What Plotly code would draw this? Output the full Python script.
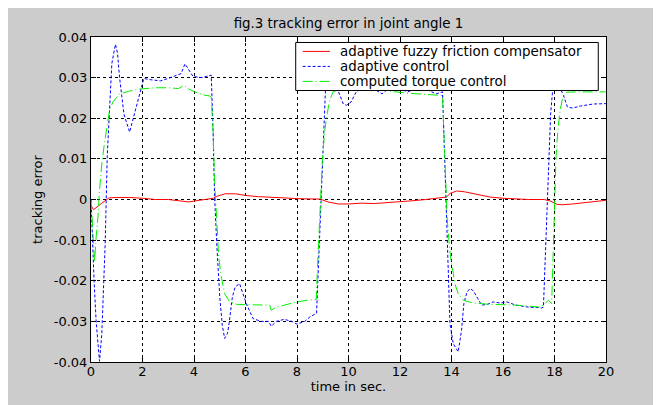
import plotly.graph_objects as go

# ---------------- data ----------------
series_names = ["adaptive fuzzy friction compensator", "adaptive control", "computed torque control"]

t_fuzzy = [0.0, 0.1, 0.4, 0.7, 1.0, 1.5, 2.0, 2.5, 3.0, 3.5, 3.8, 4.2, 4.6, 4.75, 4.9, 5.2, 5.6,
           6.0, 6.5, 7.0, 7.5, 8.0, 8.5, 8.9, 9.2, 9.6, 10.0, 10.5, 11.0, 11.5, 12.0, 12.5, 13.0,
           13.5, 13.8, 13.95, 14.2, 14.5, 15.0, 15.5, 16.0, 16.5, 17.0, 17.6, 17.85, 18.1, 18.3,
           18.7, 19.2, 19.6, 20.0]
e_fuzzy = [-0.0015, -0.0025, -0.001, 0.0004, 0.0005, 0.0005, 0.0003, 0.0, 0.0, -0.0003, -0.0006,
           -0.0002, 0.0001, 0.0003, 0.0008, 0.0014, 0.0014, 0.001, 0.0007, 0.0006, 0.0004, 0.0002,
           0.0002, 0.0001, -0.0006, -0.0011, -0.0011, -0.0009, -0.001, -0.0008, -0.0005, -0.0003,
           0.0, 0.0003, 0.0006, 0.0015, 0.0021, 0.0019, 0.0012, 0.0006, 0.0003, 0.0001, 0.0, 0.0,
           -0.0004, -0.0012, -0.0013, -0.0011, -0.0007, -0.0004, -0.0002]

t_adaptive = [0.0, 0.05, 0.12, 0.2, 0.33, 0.42, 0.5, 0.55, 0.63, 0.72, 0.81, 0.95, 1.03, 1.11, 1.28,
              1.5, 1.69, 1.89, 2.05, 2.3, 2.7, 3.0, 3.3, 3.5, 3.65, 3.8, 3.96, 4.3, 4.6, 4.67, 4.74,
              4.8, 4.89, 5.0, 5.1, 5.19, 5.3, 5.36, 5.49, 5.6, 5.77, 5.9, 6.03, 6.29, 6.6, 6.9, 7.0,
              7.2, 7.5, 7.8, 8.0, 8.3, 8.5, 8.76, 8.82, 8.88, 8.95, 9.01, 9.08, 9.12, 9.3, 9.55,
              9.8, 9.92, 10.1, 10.3, 10.6, 11.0, 11.3, 11.6, 12.0, 12.3, 12.7, 13.0, 13.4, 13.65,
              13.7, 13.77, 13.81, 13.87, 13.94, 14.07, 14.26, 14.39, 14.48, 14.6, 14.72, 14.85,
              14.98, 15.17, 15.4, 15.62, 15.9, 16.14, 16.5, 17.0, 17.37, 17.5, 17.57, 17.63, 17.7,
              17.76, 17.85, 17.96, 18.1, 18.25, 18.35, 18.5, 18.7, 19.0, 19.5, 20.0]
e_adaptive = [0.0, -0.009, -0.02, -0.03, -0.0398, -0.033, -0.02, -0.011, 0.0105, 0.021, 0.0335,
              0.0382, 0.036, 0.03, 0.021, 0.0166, 0.021, 0.026, 0.0298, 0.0295, 0.0292, 0.0298,
              0.0305, 0.031, 0.0334, 0.032, 0.0303, 0.03, 0.0306, 0.0306, 0.017, 0.0006, -0.0117,
              -0.024, -0.031, -0.0342, -0.033, -0.0306, -0.024, -0.0215, -0.0207, -0.023, -0.0256,
              -0.0293, -0.03, -0.03, -0.0312, -0.03, -0.0295, -0.03, -0.0307, -0.03, -0.0289,
              -0.028, -0.019, -0.0092, 0.0006, 0.0129, 0.0236, 0.0293, 0.03, 0.0275, 0.0235,
              0.0232, 0.024, 0.0265, 0.0275, 0.0272, 0.026, 0.0275, 0.0272, 0.0265, 0.0274,
              0.0272, 0.026, 0.0265, 0.017, 0.003, -0.0092, -0.0207, -0.0306, -0.0355, -0.0375,
              -0.0322, -0.0256, -0.0228, -0.0219, -0.0225, -0.024, -0.026, -0.0258, -0.0252,
              -0.0255, -0.0252, -0.026, -0.0265, -0.0266, -0.0267, -0.0265, -0.0158, -0.0035,
              0.0088, 0.0211, 0.0293, 0.031, 0.027, 0.0256, 0.0228, 0.0225, 0.023, 0.0235, 0.0236]

t_torque = [0.0, 0.07, 0.14, 0.2, 0.27, 0.33, 0.42, 0.52, 0.63, 0.72, 0.85, 1.11, 1.5, 1.89, 2.5,
            3.0, 3.4, 3.61, 3.8, 4.02, 4.39, 4.6, 4.67, 4.74, 4.8, 4.87, 4.96, 5.06, 5.19, 5.39,
            5.65, 6.0, 6.5, 6.94, 7.0, 7.1, 7.33, 7.7, 8.0, 8.4, 8.75, 8.78, 8.86, 8.92, 8.99,
            9.08, 9.17, 9.27, 9.4, 9.7, 10.5, 11.5, 12.2, 13.0, 13.6, 13.65, 13.7, 13.77, 13.83,
            13.91, 13.98, 14.07, 14.13, 14.26, 14.46, 14.85, 15.49, 16.5, 17.44, 17.57, 17.76,
            17.89, 17.93, 17.98, 18.02, 18.06, 18.13, 18.22, 18.32, 18.48, 19.0, 20.0]
e_torque = [0.0, -0.0076, -0.0154, -0.0092, -0.0043, 0.0023, 0.0088, 0.0138, 0.0187, 0.022, 0.024,
            0.026, 0.0267, 0.0272, 0.0275, 0.0275, 0.0273, 0.0281, 0.0272, 0.0265, 0.0257, 0.0255,
            0.0252, 0.017, 0.0047, -0.0043, -0.0142, -0.019, -0.0232, -0.0252, -0.0258, -0.0259,
            -0.026, -0.026, -0.0273, -0.0268, -0.0263, -0.0257, -0.0252, -0.0248, -0.0246, -0.019,
            -0.0092, 0.0006, 0.0105, 0.017, 0.0211, 0.0244, 0.0265, 0.0272, 0.0272, 0.0268,
            0.0262, 0.0258, 0.0255, 0.0256, 0.017, 0.0064, -0.0043, -0.0109, -0.015, -0.0182,
            -0.0207, -0.0232, -0.0248, -0.0255, -0.0258, -0.026, -0.0265, -0.026, -0.0248,
            -0.0256, -0.0158, -0.0051, 0.0031, 0.0105, 0.017, 0.022, 0.0252, 0.0264, 0.0265, 0.0265]

x_ticks = [0, 2, 4, 6, 8, 10, 12, 14, 16, 18, 20]
y_ticks = [-0.04, -0.03, -0.02, -0.01, 0.0, 0.01, 0.02, 0.03, 0.04]
y_ticktext = ["-0.04", "-0.03", "-0.02", "-0.01", "0", "0.01", "0.02", "0.03", "0.04"]

# ---------------- styling ----------------
FONT = "DejaVu Sans"
colors = ["#ff0000", "#0000ff", "#00f000"]
dashes = ["solid", "3px,2px", "10px,3px,1px,3px"]

fig = go.Figure()
for name, t, e, c, d in zip(series_names, [t_fuzzy, t_adaptive, t_torque],
                            [e_fuzzy, e_adaptive, e_torque], colors, dashes):
    fig.add_trace(go.Scatter(x=t, y=e, mode="lines", name=name, showlegend=False,
                             line=dict(color=c, width=1, dash=d)))

axis_common = dict(showline=True, linecolor="black", linewidth=1, mirror="ticks",
                   ticks="inside", ticklen=5, tickcolor="black", showgrid=True,
                   gridcolor="black", gridwidth=1, griddash="3px,3px", zeroline=False,
                   tickfont=dict(family=FONT, size=13, color="black"))

fig.update_xaxes(range=[0, 20], tickvals=x_ticks, ticktext=[str(v) for v in x_ticks],
                 ticklabelstandoff=-3,
                 title=dict(text="time in sec.", font=dict(family=FONT, size=13, color="black"),
                            standoff=3), **axis_common)
fig.update_yaxes(range=[-0.04, 0.04], tickvals=y_ticks, ticktext=y_ticktext,
                 title=dict(text="tracking error", font=dict(family=FONT, size=13, color="black"),
                            standoff=8), **axis_common)

# background: gray figure area, white plotting area
shapes = [
    dict(type="rect", xref="paper", yref="paper", x0=-0.3, x1=1.3, y0=-0.3, y1=1.3,
         fillcolor="#cccccc", line=dict(width=0), layer="below"),
    dict(type="rect", xref="paper", yref="paper", x0=0, x1=1, y0=0, y1=1,
         fillcolor="white", line=dict(width=0), layer="below"),
]

# legend box drawn in MATLAB style
leg_x0, leg_x1, leg_y0, leg_y1 = 0.3975, 0.985, 0.8354, 0.9831
row_y = [0.9557, 0.9095, 0.8634]
shapes.append(dict(type="rect", xref="paper", yref="paper", x0=leg_x0, x1=leg_x1,
                   y0=leg_y0, y1=leg_y1, fillcolor="white",
                   line=dict(color="black", width=1), layer="above"))
annotations = []
for name, c, d, yy in zip(series_names, colors, dashes, row_y):
    shapes.append(dict(type="line", xref="paper", yref="paper", x0=0.411, x1=0.464,
                       y0=yy, y1=yy, line=dict(color=c, width=1, dash=d), layer="above"))
    annotations.append(dict(text=name, xref="paper", yref="paper", x=0.4816, y=yy,
                            xanchor="left", yanchor="middle", showarrow=False, borderpad=0,
                            font=dict(family=FONT, size=13.4, color="black")))

# page body has an 8px default margin, so the figure is sized/offset to compensate
fig.update_layout(
    width=653, height=397,
    margin=dict(l=83, r=55, t=29, b=43),
    paper_bgcolor="#cccccc", plot_bgcolor="white",
    title=dict(text="fig.3 tracking error in joint angle 1", x=0.5, xref="paper",
               xanchor="center", y=1 - 15 / 397, yref="container", yanchor="middle",
               font=dict(family=FONT, size=13.4, color="black")),
    shapes=shapes, annotations=annotations,
    showlegend=False,
)

fig.write_html("out.html")
